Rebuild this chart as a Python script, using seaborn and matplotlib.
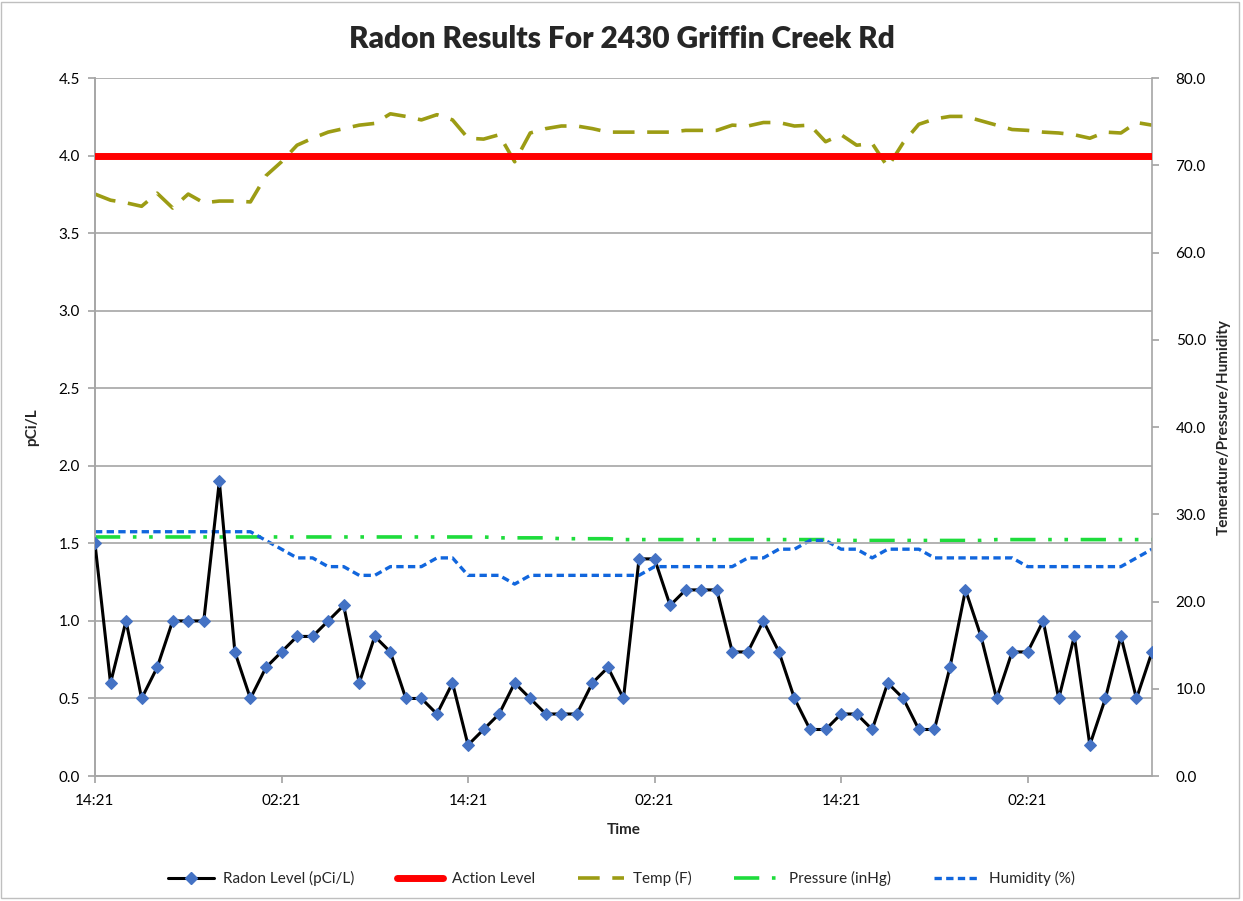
import numpy as np
import pandas as pd
import seaborn as sns
import matplotlib
matplotlib.use("Agg")
import matplotlib.pyplot as plt
from matplotlib.patches import Rectangle
from matplotlib.lines import Line2D

# Hourly readings, starting 14:21
hours = list(range(69))

radon = [1.5, 0.6, 1.0, 0.5, 0.7, 1.0, 1.0, 1.0, 1.9, 0.8,
         0.5, 0.7, 0.8, 0.9, 0.9, 1.0, 1.1, 0.6, 0.9, 0.8,
         0.5, 0.5, 0.4, 0.6, 0.2, 0.3, 0.4, 0.6, 0.5, 0.4,
         0.4, 0.4, 0.6, 0.7, 0.5, 1.4, 1.4, 1.1, 1.2, 1.2,
         1.2, 0.8, 0.8, 1.0, 0.8, 0.5, 0.3, 0.3, 0.4, 0.4,
         0.3, 0.6, 0.5, 0.3, 0.3, 0.7, 1.2, 0.9, 0.5, 0.8,
         0.8, 1.0, 0.5, 0.9, 0.2, 0.5, 0.9, 0.5, 0.8]

action_level = 4.0

temp = [66.7, 66.0, 65.7, 65.3, 66.8, 65.1, 66.7, 65.7, 65.9, 65.9,
        65.8, 68.8, 70.4, 72.3, 73.1, 73.8, 74.2, 74.6, 74.8, 75.9,
        75.6, 75.2, 75.8, 75.2, 73.1, 73.0, 73.5, 70.4, 73.7, 74.2,
        74.5, 74.5, 74.2, 73.8, 73.8, 73.8, 73.8, 73.8, 74.0, 74.0,
        74.0, 74.6, 74.5, 74.9, 74.9, 74.5, 74.6, 72.7, 73.5, 72.3,
        72.5, 69.8, 72.6, 74.7, 75.3, 75.6, 75.6, 75.1, 74.6, 74.1,
        74.0, 73.8, 73.7, 73.5, 73.1, 73.8, 73.7, 74.9, 74.6]

pressure = [27.4] * 26 + [27.3] * 4 + [27.2] * 4 + [27.1] * 14 \
    + [27.0] * 10 + [27.1] * 11

humidity = [28, 28, 28, 28, 28, 28, 28, 28, 28, 28,
            28, 27, 26, 25, 25, 24, 24, 23, 23, 24,
            24, 24, 25, 25, 23, 23, 23, 22, 23, 23,
            23, 23, 23, 23, 23, 23, 24, 24, 24, 24,
            24, 24, 25, 25, 26, 26, 27, 27, 26, 26,
            25, 26, 26, 26, 25, 25, 25, 25, 25, 25,
            24, 24, 24, 24, 24, 24, 24, 25, 26]

tick_hours = [0, 12, 24, 36, 48, 60]
tick_labels = ["14:21", "02:21", "14:21", "02:21", "14:21", "02:21"]

df = pd.DataFrame({
    "hour": hours,
    "radon": radon,
    "action": [action_level] * len(hours),
    "temp": temp,
    "pressure": pressure,
    "humidity": humidity,
})

sns.set_theme(style="white")
plt.rcParams["font.family"] = ["Lato", "DejaVu Sans"]

GRID = "#A6A6A6"
RADON_MARKER = "#4472C4"
TEMP_COLOR = "#9C9C14"
PRESS_COLOR = "#1EDC3C"
HUM_COLOR = "#1166DD"

fig = plt.figure(figsize=(12.43, 9.01), dpi=100)
ax = fig.add_axes([0.0764, 0.1387, 0.8504, 0.7747])
ax2 = ax.twinx()

# Right-axis series
sns.lineplot(data=df, x="hour", y="temp", ax=ax2, color=TEMP_COLOR,
             linewidth=2.6, linestyle=(0, (6, 3.5)))
sns.lineplot(data=df, x="hour", y="pressure", ax=ax2, color=PRESS_COLOR,
             linewidth=2.6, linestyle=(0, (7, 3.5, 1, 3.5, 1, 3.5)))
sns.lineplot(data=df, x="hour", y="humidity", ax=ax2, color=HUM_COLOR,
             linewidth=2.4, linestyle=(0, (2.2, 1.3)))

# Left-axis series
sns.lineplot(data=df, x="hour", y="action", ax=ax, color="#FF0000",
             linewidth=5, zorder=3)
sns.lineplot(data=df, x="hour", y="radon", ax=ax, color="black",
             linewidth=2.2, marker="D", markersize=6.5,
             markerfacecolor=RADON_MARKER, markeredgecolor=RADON_MARKER,
             zorder=4)

ax.set_zorder(ax2.get_zorder() + 1)
ax.patch.set_visible(False)

ax.set_xlim(0, 68)
ax.set_ylim(0, 4.5)
ax2.set_ylim(0, 80)
ax.set_xticks(tick_hours)
ax.set_xticklabels(tick_labels)
ax.set_yticks(np.arange(0, 4.51, 0.5))
ax.set_yticklabels(["%.1f" % v for v in np.arange(0, 4.51, 0.5)])
ax2.set_yticks(np.arange(0, 80.1, 10))
ax2.set_yticklabels(["%.1f" % v for v in np.arange(0, 80.1, 10)])

ax.grid(axis="y", color=GRID, linewidth=1.2)
ax.grid(axis="x", visible=False)
ax2.grid(False)

for a in (ax, ax2):
    for sp in a.spines.values():
        sp.set_color(GRID)
        sp.set_linewidth(1.2)
    a.spines["top"].set_visible(False)
ax.spines["right"].set_visible(False)

ax.tick_params(axis="both", which="both", direction="out", length=5,
               color=GRID, labelsize=11, labelcolor="black", pad=6)
ax.tick_params(axis="x", bottom=True, pad=8)
ax.tick_params(axis="y", left=True)
ax2.tick_params(axis="y", right=True, direction="out", length=5,
                color=GRID, labelsize=11, labelcolor="black", pad=12)

ax.set_xlabel("Time", fontsize=11, fontweight="bold", labelpad=11)
ax.set_ylabel("pCi/L", fontsize=11, fontweight="bold", labelpad=14)
ax2.set_ylabel("Temerature/Pressure/Humidity", fontsize=11,
               fontweight="bold", labelpad=8)

fig.text(0.5, 0.957, "Radon Results For 2430 Griffin Creek Rd",
         ha="center", va="center", fontsize=21.5, fontweight="heavy")

handles = [
    Line2D([], [], color="black", linewidth=2.2, marker="D", markersize=6.5,
           markerfacecolor=RADON_MARKER, markeredgecolor=RADON_MARKER),
    Line2D([], [], color="#FF0000", linewidth=5),
    Line2D([], [], color=TEMP_COLOR, linewidth=2.6, linestyle=(0, (6, 3.5))),
    Line2D([], [], color=PRESS_COLOR, linewidth=2.6,
           linestyle=(0, (7, 3.5, 1, 3.5, 1, 3.5))),
    Line2D([], [], color=HUM_COLOR, linewidth=2.4, linestyle=(0, (2.2, 1.3))),
]
labels = ["Radon Level (pCi/L)", "Action Level", "Temp (F)",
          "Pressure (inHg)", "Humidity (%)"]
fig.legend(handles, labels, loc="center", bbox_to_anchor=(0.5, 0.025),
           ncol=5, frameon=False, fontsize=11, handlelength=3.0,
           columnspacing=2.8, handletextpad=0.6)

# chart area border
fig.patches.append(Rectangle((0.001, 0.003), 0.996, 0.995,
                             transform=fig.transFigure, fill=False,
                             edgecolor="#BFBFBF", linewidth=1))

fig.savefig("out.png", dpi=100)
